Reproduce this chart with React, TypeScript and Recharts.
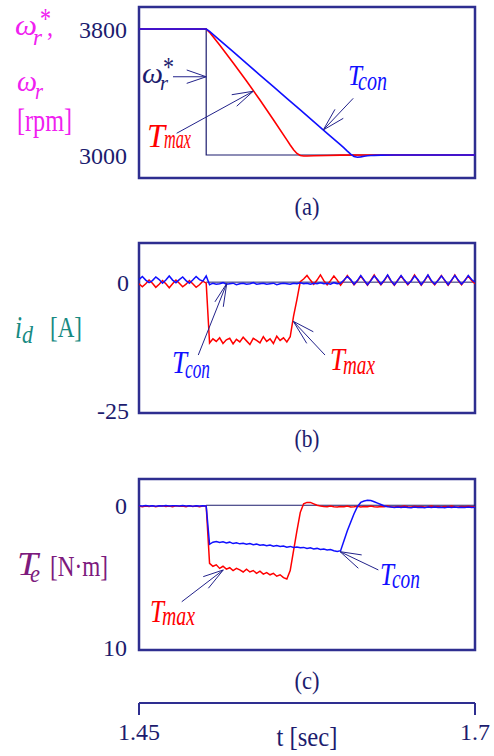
import React from 'react';
import { LineChart, Line, XAxis, YAxis, ReferenceLine, ReferenceArea } from 'recharts';

// shared time grid for panels (b) and (c), seconds
const tGrid = [
  1.45, 1.4525, 1.455, 1.4575, 1.46, 1.4625, 1.465, 1.4675, 1.47, 1.4725,
  1.475, 1.4775, 1.48, 1.4825, 1.485, 1.4875, 1.49, 1.4925, 1.495, 1.4975,
  1.5, 1.5025, 1.505, 1.5075, 1.51, 1.5125, 1.515, 1.5175, 1.52, 1.5225,
  1.525, 1.5275, 1.53, 1.5325, 1.535, 1.5375, 1.54, 1.5425, 1.545, 1.5475,
  1.55, 1.5525, 1.555, 1.5575, 1.56, 1.5625, 1.565, 1.5675, 1.57, 1.5725,
  1.575, 1.5775, 1.58, 1.5825, 1.585, 1.5875, 1.59, 1.5925, 1.595, 1.5975,
  1.6, 1.6025, 1.605, 1.6075, 1.61, 1.6125, 1.615, 1.6175, 1.62, 1.6225,
  1.625, 1.6275, 1.63, 1.6325, 1.635, 1.6375, 1.64, 1.6425, 1.645, 1.6475,
  1.65, 1.6525, 1.655, 1.6575, 1.66, 1.6625, 1.665, 1.6675, 1.67, 1.6725,
  1.675, 1.6775, 1.68, 1.6825, 1.685, 1.6875, 1.69, 1.6925, 1.695, 1.6975,
  1.7,
];

// (a) speed [rpm]
const wRefT = [1.45, 1.5, 1.5, 1.7];
const wRefV = [3800, 3800, 3000, 3000];
const wMaxT = [1.45, 1.5, 1.5025, 1.505, 1.51, 1.52, 1.53, 1.54, 1.55, 1.56, 1.5625, 1.565, 1.5675, 1.57, 1.5725, 1.575, 1.58, 1.59, 1.6, 1.62, 1.7];
const wMaxV = [3800, 3800, 3779, 3752, 3698, 3586, 3470, 3349, 3224, 3096, 3064, 3034, 3010, 2997, 2994, 2994, 2995, 2997, 2999, 3000, 3000];
const wConT = [1.45, 1.5, 1.5025, 1.51, 1.52, 1.53, 1.54, 1.55, 1.56, 1.57, 1.58, 1.59, 1.6, 1.6025, 1.605, 1.6075, 1.61, 1.6125, 1.615, 1.6175, 1.62, 1.625, 1.63, 1.64, 1.7];
const wConV = [3800, 3800, 3785, 3730, 3656, 3582, 3508, 3434, 3360, 3286, 3212, 3138, 3064, 3045, 3025, 3006, 2991, 2986, 2988, 2992, 2995, 2998, 2999, 3000, 3000];

// (b) d-axis current [A]
const idMax = [
  -0.3, -0.9, -0.3, 0.4, -0.2, -1.0, -0.4, 0.3, -0.3, -1.1,
  -0.3, 0.4, -0.2, -0.9, -0.4, 0.3, -0.3, -1.0, -0.5, 0.2,
  -0.2, -11.8, -11.0, -11.5, -10.8, -11.9, -11.2, -10.9, -12.0, -11.1,
  -11.6, -10.7, -11.4, -12.1, -10.9, -11.3, -11.8, -10.6, -11.5, -11.0,
  -11.9, -10.5, -11.3, -10.8, -11.6, -10.6, -6.6, -3.4, 0.1, 0.6,
  1.3, 0.4, -0.4, 0.4, 1.4, 0.3, -0.5, 0.3, 1.2, 0.4,
  -0.6, 0.3, 1.3, 0.4, -0.5, 0.2, 1.2, 0.3, -0.6, 0.4,
  1.4, 0.3, -0.5, 0.3, 1.3, 0.2, -0.6, 0.4, 1.2, 0.3,
  -0.5, 0.3, 1.4, 0.4, -0.6, 0.3, 1.3, 0.2, -0.5, 0.4,
  1.3, 0.3, -0.6, 0.3, 1.4, 0.3, -0.5, 0.4, 1.2, 0.3,
  -0.3,
];
const idCon = [
  0.5, 1.1, 0.4, -0.1, 0.3, 1.0, 0.5, -0.2, 0.4, 1.2,
  0.4, -0.1, 0.5, 1.0, 0.3, -0.2, 0.4, 1.1, 0.5, 0.2,
  1.2, -0.5, -0.2, -0.4, -0.3, -0.1, -0.4, -0.3, -0.2, -0.5,
  -0.3, -0.2, -0.4, -0.3, -0.1, -0.4, -0.3, -0.2, -0.4, -0.3,
  -0.2, -0.5, -0.3, -0.2, -0.3, -0.4, -0.2, -0.3, -0.1, -0.3,
  -0.2, -0.4, -0.2, -0.3, -0.1, -0.3, -0.2, -0.4, -0.1, -0.3,
  -0.2, 0.4, 1.1, 0.5, -0.4, 0.3, 1.3, 0.4, -0.5, 0.3,
  1.2, 0.5, -0.4, 0.4, 1.4, 0.3, -0.5, 0.3, 1.3, 0.4,
  -0.4, 0.2, 1.2, 0.5, -0.5, 0.4, 1.4, 0.3, -0.4, 0.3,
  1.2, 0.4, -0.5, 0.4, 1.3, 0.4, -0.4, 0.3, 1.3, 0.5,
  0.0,
];

// (c) torque [N.m], axis drawn downward
const teMax = [
  0.05, 0.1, 0.05, 0.08, 0.03, 0.1, 0.06, 0.04, 0.09, 0.05,
  0.1, 0.04, 0.07, 0.05, 0.1, 0.03, 0.08, 0.06, 0.1, 0.05,
  0.05, 4.1, 4.3, 4.2, 4.45, 4.3, 4.5, 4.4, 4.6, 4.45,
  4.55, 4.7, 4.5, 4.7, 4.6, 4.8, 4.65, 4.85, 4.75, 4.9,
  4.8, 5.0, 4.9, 5.1, 5.2, 4.6, 3.2, 1.8, 0.5, -0.1,
  -0.2, -0.2, -0.1, 0.0, 0.05, 0.08, 0.1, 0.06, 0.1, 0.12,
  0.08, 0.1, 0.05, 0.12, 0.1, 0.07, 0.12, 0.09, 0.1, 0.06,
  0.1, 0.12, 0.08, 0.1, 0.05, 0.1, 0.12, 0.08, 0.1, 0.06,
  0.1, 0.12, 0.07, 0.1, 0.08, 0.12, 0.1, 0.06, 0.1, 0.09,
  0.12, 0.08, 0.1, 0.06, 0.1, 0.12, 0.08, 0.1, 0.07, 0.1,
  0.1,
];
const teCon = [
  0.03, 0.06, 0.02, 0.05, 0.04, 0.07, 0.03, 0.05, 0.02, 0.06,
  0.04, 0.03, 0.06, 0.02, 0.05, 0.04, 0.07, 0.03, 0.05, 0.04,
  0.05, 2.75, 2.6, 2.55, 2.62, 2.58, 2.66, 2.6, 2.7, 2.65,
  2.72, 2.68, 2.75, 2.7, 2.78, 2.74, 2.82, 2.78, 2.85, 2.8,
  2.88, 2.84, 2.9, 2.87, 2.95, 2.9, 2.98, 2.94, 3.0, 2.97,
  3.05, 3.0, 3.08, 3.04, 3.12, 3.08, 3.15, 3.12, 3.2, 3.25,
  3.2, 2.5, 1.8, 1.2, 0.6, 0.1, -0.2, -0.3, -0.35, -0.33,
  -0.25, -0.15, -0.05, 0.05, 0.1, 0.12, 0.15, 0.12, 0.16, 0.13,
  0.15, 0.17, 0.12, 0.16, 0.14, 0.17, 0.13, 0.15, 0.12, 0.16,
  0.14, 0.17, 0.13, 0.15, 0.12, 0.16, 0.14, 0.15, 0.13, 0.15,
  0.14,
];

// annotation arrows in data coordinates: [[t0, v0], [t1, v1]]
const arrowsA = [
  [[1.4753, 3497], [1.5, 3497]], [[1.4855, 3540], [1.5, 3497]], [[1.4855, 3455], [1.5, 3497]],
  [[1.478, 3138], [1.535, 3405]], [[1.519, 3383], [1.535, 3405]], [[1.5227, 3310], [1.535, 3405]],
  [[1.6094, 3360], [1.5871, 3159]], [[1.5958, 3290], [1.5871, 3159]], [[1.602, 3233], [1.5871, 3159]],
];
const arrowsB = [
  [[1.4941, -14.15], [1.5153, -0.25]], [[1.5065, -3.82], [1.5153, -0.25]], [[1.5127, -4.79], [1.5153, -0.25]],
  [[1.5884, -14.15], [1.5648, -7.6]], [[1.5797, -9.63], [1.5648, -7.6]], [[1.5748, -11.88], [1.5648, -7.6]],
];
const arrowsC = [
  [[1.4818, 6.8], [1.5127, 4.56]], [[1.4978, 5.03], [1.5127, 4.56]], [[1.5016, 5.85], [1.5127, 4.56]],
  [[1.6281, 4.56], [1.5996, 3.27]], [[1.6157, 3.5], [1.5996, 3.27]], [[1.6132, 4.44], [1.5996, 3.27]],
];

const RED = '#ff0000';
const BLUE = '#1010ff';
const BOX = '#2e2e90';
const NAVY = '#1c1c6e';
const ANN = '#22228a';
const MAG = '#f020f0';
const TEAL = '#178a82';
const PURP = '#7d1a7d';
const FONT = "'Liberation Serif', 'Times New Roman', serif";

const rows = (ts: number[], vs: number[]) => ts.map((t, i) => ({ t, v: vs[i] }));

const tickStyle = { fontSize: 24, fill: NAVY, fontFamily: FONT };

type Lbl = { x: number; y: number; t: string; s: number; w: number; c: string; it?: boolean; a?: 'start' | 'middle' | 'end' };

const labels: Lbl[] = [
  // panel (a) axis title
  { x: 15, y: 35, t: 'ω', s: 30, w: 22, c: MAG, it: true },
  { x: 33, y: 45, t: 'r', s: 24, w: 9, c: MAG, it: true },
  { x: 40, y: 28, t: '*', s: 30, w: 11, c: MAG },
  { x: 47, y: 36, t: ',', s: 28, w: 6, c: MAG },
  { x: 17, y: 91, t: 'ω', s: 30, w: 20, c: MAG, it: true },
  { x: 35, y: 99, t: 'r', s: 24, w: 8, c: MAG, it: true },
  { x: 17, y: 131, t: '[rpm]', s: 31, w: 55, c: MAG },
  // panel (a) annotations
  { x: 142, y: 83, t: 'ω', s: 30, w: 21, c: NAVY, it: true },
  { x: 160, y: 90, t: 'r', s: 22, w: 8, c: NAVY, it: true },
  { x: 163, y: 76, t: '*', s: 28, w: 11, c: NAVY },
  { x: 147, y: 147, t: 'T', s: 34, w: 18, c: RED, it: true },
  { x: 164, y: 148, t: 'max', s: 28, w: 27, c: RED, it: true },
  { x: 348, y: 85, t: 'T', s: 30, w: 14, c: BLUE, it: true },
  { x: 358, y: 90, t: 'con', s: 28, w: 29, c: BLUE, it: true },
  { x: 307, y: 215, t: '(a)', s: 26, w: 25, c: NAVY, a: 'middle' },
  // panel (b)
  { x: 15, y: 338, t: 'i', s: 32, w: 7, c: TEAL, it: true },
  { x: 22, y: 343, t: 'd', s: 26, w: 11, c: TEAL, it: true },
  { x: 50, y: 337, t: '[A]', s: 29, w: 32, c: TEAL },
  { x: 172, y: 373, t: 'T', s: 32, w: 15, c: BLUE, it: true },
  { x: 185, y: 378, t: 'con', s: 28, w: 25, c: BLUE, it: true },
  { x: 330, y: 370, t: 'T', s: 32, w: 15, c: RED, it: true },
  { x: 343, y: 374, t: 'max', s: 28, w: 32, c: RED, it: true },
  { x: 307, y: 447, t: '(b)', s: 26, w: 25, c: NAVY, a: 'middle' },
  // panel (c)
  { x: 17, y: 575, t: 'T', s: 33, w: 21, c: PURP, it: true },
  { x: 30, y: 582, t: 'e', s: 26, w: 10, c: PURP, it: true },
  { x: 50, y: 576, t: '[N·m]', s: 30, w: 58, c: PURP },
  { x: 150, y: 622, t: 'T', s: 32, w: 14, c: RED, it: true },
  { x: 162, y: 625, t: 'max', s: 28, w: 33, c: RED, it: true },
  { x: 380, y: 585, t: 'T', s: 32, w: 14, c: BLUE, it: true },
  { x: 392, y: 588, t: 'con', s: 28, w: 28, c: BLUE, it: true },
  { x: 307, y: 689, t: '(c)', s: 26, w: 25, c: NAVY, a: 'middle' },
  { x: 307, y: 746, t: 't [sec]', s: 28, w: 61, c: NAVY, a: 'middle' },
];

const arrowLines = (list: number[][][]) =>
  list.map((s, k) => (
    <ReferenceLine
      key={'ar' + k}
      segment={[{ x: s[0][0], y: s[0][1] }, { x: s[1][0], y: s[1][1] }]}
      stroke={ANN}
      strokeWidth={1}
      ifOverflow="visible"
    />
  ));

const box = (lo: number, hi: number) => (
  <ReferenceArea x1={1.45} x2={1.7} y1={lo} y2={hi} fill="none" stroke={BOX} strokeWidth={2.5} ifOverflow="visible" />
);

export default function App() {
  const domA: [number, number] = [2854, 3940];
  const domB: [number, number] = [-25.4, 7.6];
  const domC: [number, number] = [-1.85, 10.2];

  return (
    <div style={{ position: 'absolute', left: 0, top: 0, width: 494, height: 756, background: '#fff', overflow: 'hidden' }}>
      {/* (a) speed */}
      <div style={{ position: 'absolute', left: 0, top: 0 }}>
        <LineChart width={494} height={200} margin={{ top: 7, right: 19, bottom: 22, left: 79 }}>
          <XAxis type="number" dataKey="t" domain={[1.45, 1.7]} hide allowDataOverflow />
          <YAxis type="number" width={60} domain={domA} ticks={[3000, 3800]} allowDataOverflow
            tickLine={false} axisLine={false} tickSize={0} tickMargin={12} tick={tickStyle} />
          {box(domA[0], domA[1])}
          <Line data={rows(wRefT, wRefV)} dataKey="v" type="linear" stroke={NAVY} strokeWidth={1.2} dot={false} isAnimationActive={false} />
          <Line data={rows(wMaxT, wMaxV)} dataKey="v" type="linear" stroke={RED} strokeWidth={1.6} dot={false} isAnimationActive={false} />
          <Line data={rows(wConT, wConV)} dataKey="v" type="linear" stroke={BLUE} strokeWidth={1.6} dot={false} isAnimationActive={false} />
          {arrowLines(arrowsA)}
        </LineChart>
      </div>

      {/* (b) id */}
      <div style={{ position: 'absolute', left: 0, top: 230 }}>
        <LineChart width={494} height={200} margin={{ top: 13, right: 19, bottom: 17, left: 79 }}>
          <XAxis type="number" dataKey="t" domain={[1.45, 1.7]} hide allowDataOverflow />
          <YAxis type="number" width={60} domain={domB} ticks={[-25, 0]} allowDataOverflow
            tickLine={false} axisLine={false} tickSize={0} tickMargin={10} tick={tickStyle} />
          {box(domB[0], domB[1])}
          <ReferenceLine segment={[{ x: 1.5, y: 0 }, { x: 1.7, y: 0 }]} stroke={NAVY} strokeWidth={1} />
          <Line data={rows(tGrid, idMax)} dataKey="v" type="linear" stroke={RED} strokeWidth={1.5} dot={false} isAnimationActive={false} />
          <Line data={rows(tGrid, idCon)} dataKey="v" type="linear" stroke={BLUE} strokeWidth={1.5} dot={false} isAnimationActive={false} />
          {arrowLines(arrowsB)}
        </LineChart>
      </div>

      {/* (c) torque */}
      <div style={{ position: 'absolute', left: 0, top: 470 }}>
        <LineChart width={494} height={200} margin={{ top: 9, right: 19, bottom: 20, left: 79 }}>
          <XAxis type="number" dataKey="t" domain={[1.45, 1.7]} hide allowDataOverflow />
          <YAxis type="number" width={60} domain={domC} ticks={[0, 10]} reversed allowDataOverflow
            tickLine={false} axisLine={false} tickSize={0} tickMargin={12} tick={tickStyle} />
          {box(domC[0], domC[1])}
          <ReferenceLine segment={[{ x: 1.5, y: 0 }, { x: 1.7, y: 0 }]} stroke={NAVY} strokeWidth={1} />
          <Line data={rows(tGrid, teMax)} dataKey="v" type="linear" stroke={RED} strokeWidth={1.5} dot={false} isAnimationActive={false} />
          <Line data={rows(tGrid, teCon)} dataKey="v" type="linear" stroke={BLUE} strokeWidth={1.5} dot={false} isAnimationActive={false} />
          {arrowLines(arrowsC)}
        </LineChart>
      </div>

      {/* time axis */}
      <div style={{ position: 'absolute', left: 0, top: 690 }}>
        <LineChart width={494} height={66} margin={{ top: 3, right: 19, bottom: 13, left: 139 }} data={rows(tGrid, tGrid)}>
          <XAxis type="number" dataKey="t" domain={[1.45, 1.7]} ticks={[1.45, 1.7]} interval={0} height={40}
            axisLine={{ stroke: BOX, strokeWidth: 2 }} tickLine={{ stroke: BOX, strokeWidth: 2 }}
            tickSize={12} tickMargin={8} tick={tickStyle} />
          <YAxis hide />
        </LineChart>
      </div>

      <svg width={494} height={756} style={{ position: 'absolute', left: 0, top: 0, pointerEvents: 'none' }}>
        {labels.map((l, k) => (
          <text key={k} x={l.x} y={l.y} fontSize={l.s} textLength={l.w} lengthAdjust="spacingAndGlyphs"
            fill={l.c} fontStyle={l.it ? 'italic' : 'normal'} textAnchor={l.a || 'start'} fontFamily={FONT}>
            {l.t}
          </text>
        ))}
      </svg>
    </div>
  );
}
